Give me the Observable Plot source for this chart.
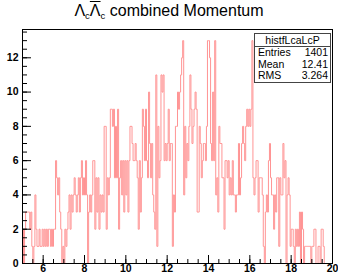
<!DOCTYPE html>
<html><head><meta charset="utf-8">
<script src="https://cdn.jsdelivr.net/npm/d3@7"></script>
<script src="https://cdn.jsdelivr.net/npm/@observablehq/plot@0.6"></script>
<style>
body{margin:0;background:#fff;font-family:"Liberation Sans",Arial,sans-serif;}
#wrap{position:relative;width:338px;height:273px;overflow:hidden;}
#title{position:absolute;left:0;width:338px;top:2px;text-align:center;font-size:16px;color:#000;}
#title sub{font-size:9.5px;vertical-align:-3px;line-height:0;}
.ov{text-decoration:overline;}
#stats{position:absolute;left:254px;top:33px;width:77px;height:50px;border:1px solid #444;background:#fff;font-size:10.5px;color:#000;box-sizing:border-box;}
#stats .hd{text-align:center;height:12px;line-height:12px;border-bottom:1px solid #444;}
#stats .row{display:flex;justify-content:space-between;padding:0 2px 0 3px;height:11.5px;line-height:11.5px;}
</style></head><body>
<div id="wrap"><div id="chart"></div>
<div id="title">Λ<sub>c</sub><span class="ov">Λ</span><sub>c</sub> combined Momentum</div>
<div id="stats"></div>
</div>
<script>
const histName = "histfLcaLcP";
const statNames = ["Entries", "Mean", "RMS"];
const statValues = ["1401", "12.41", "3.264"];
const binStart = 5;
const binWidth = 0.05;
const counts = [
  2,0,2,3,3,3,3,2,3,1,0,1,4,2,1,1,2,1,1,2,
  1,2,1,2,1,2,2,1,2,1,2,2,6,5,4,5,3,2,0,1,
  0,2,1,2,3,4,2,4,3,4,5,4,3,4,5,3,5,6,4,5,
  4,6,4,0,3,4,3,4,6,6,2,5,3,5,2,4,3,4,3,8,
  8,2,5,4,5,9,9,8,9,5,8,5,9,2,5,6,4,6,3,6,
  4,6,3,6,8,8,7,6,6,7,6,5,2,6,3,5,9,8,6,9,
  6,5,10,7,5,7,4,3,2,11,1,8,5,6,11,10,11,6,7,6,
  7,9,6,7,7,1,4,3,8,8,10,9,10,11,12,13,4,8,5,7,
  6,8,11,9,7,8,9,10,9,3,3,8,7,5,6,7,7,6,8,13,
  13,12,7,6,10,6,13,4,5,3,8,7,7,5,5,2,6,6,5,6,
  4,5,4,6,4,4,3,4,4,7,4,5,7,8,7,6,8,9,8,9,
  8,9,13,5,4,5,6,6,3,5,5,5,4,1,0,3,4,3,6,7,
  5,4,4,2,4,3,5,5,1,5,4,4,7,5,6,0,4,5,4,1,
  2,2,1,0,2,1,2,1,3,0,3,2,0,1,1,1,1,1,1,0,
  1,1,2,2,0,0,1,1,0,2,2,1,0,0,0,0,0,0,0,0
];
const xMajorTicks = [6, 8, 10, 12, 14, 16, 18, 20];
const xMinorTicks = [5,5.5,6,6.5,7,7.5,8,8.5,9,9.5,10,10.5,11,11.5,12,12.5,13,13.5,14,14.5,15,15.5,16,16.5,17,17.5,18,18.5,19,19.5,20];
const yMajorTicks = [0, 2, 4, 6, 8, 10, 12];
const yMinorTicks = [0,0.5,1,1.5,2,2.5,3,3.5,4,4.5,5,5.5,6,6.5,7,7.5,8,8.5,9,9.5,10,10.5,11,11.5,12,12.5,13,13.5];

const hist = counts.map((c, i) => ({x: binStart + i * binWidth, y: c}));
hist.push({x: binStart + counts.length * binWidth, y: counts[counts.length - 1]});

const chart = Plot.plot({
  width: 338, height: 273,
  marginLeft: 22, marginRight: 6, marginTop: 29, marginBottom: 10,
  x: {domain: [5, 20]},
  y: {domain: [0, 13.65]},
  style: {fontFamily: "'Liberation Sans', Arial, sans-serif", fontSize: "10.5px", background: "white", color: "black", overflow: "visible"},
  marks: [
    Plot.line(hist, {x: "x", y: "y", curve: "step-after", stroke: "#ff9494", strokeWidth: 1}),
    Plot.frame({stroke: "black"}),
    Plot.axisX({ticks: xMinorTicks, tickSize: -4, text: null, label: null}),
    Plot.axisX({ticks: xMajorTicks, tickSize: -8, text: null, label: null}),
    Plot.axisX({ticks: xMajorTicks, tickSize: 0, tickPadding: 1, fontWeight: "bold", label: null}),
    Plot.axisY({ticks: yMinorTicks, tickSize: -5, text: null, label: null}),
    Plot.axisY({ticks: yMajorTicks, tickSize: -9, text: null, label: null}),
    Plot.axisY({ticks: yMajorTicks, tickSize: 0, tickPadding: 4, fontWeight: "bold", label: null})
  ]
});
document.getElementById("chart").appendChild(chart);

const st = document.getElementById("stats");
let html = `<div class="hd">${histName}</div>`;
statNames.forEach((n, i) => { html += `<div class="row"><span>${n}</span><span>${statValues[i]}</span></div>`; });
st.innerHTML = html;
</script>
</body></html>
